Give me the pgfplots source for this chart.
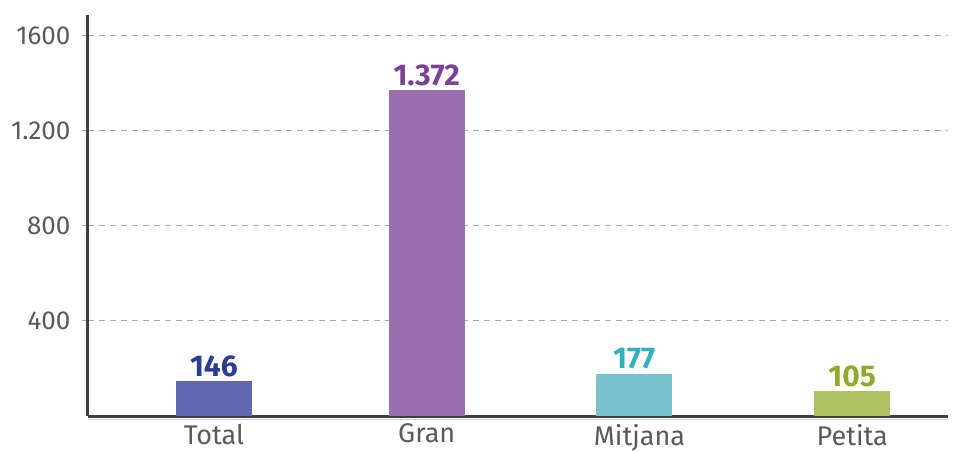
\documentclass[border=0pt]{standalone}
\usepackage{pgfplots}
\pgfplotsset{compat=1.18}
\usepackage{fontspec}
\setmainfont{Fira Sans}
\definecolor{totalbar}{HTML}{5F67B1}
\definecolor{granbar}{HTML}{9A70B1}
\definecolor{mitbar}{HTML}{77C4CE}
\definecolor{petbar}{HTML}{AFC064}
\definecolor{totallab}{HTML}{2B3D93}
\definecolor{granlab}{HTML}{7E3F98}
\definecolor{mitlab}{HTML}{33B0BB}
\definecolor{petlab}{HTML}{8EAB2B}
\definecolor{axisgray}{HTML}{3F3F3F}
\definecolor{labelgray}{HTML}{5A5A5A}
\definecolor{gridgray}{HTML}{AAAAAA}
\begin{document}
\begin{tikzpicture}
\begin{axis}[
  at={(88pt,36pt)}, anchor=south west,
  scale only axis, width=860pt, height=401pt,
  xmin=-0.592, xmax=3.45, ymin=0, ymax=1688,
  axis x line*=bottom, axis y line*=left,
  axis line style={line width=3pt, color=axisgray},
  xtick={0,1,2,3}, xticklabels={Total,Gran,Mitjana,Petita},
  ytick={400,800,1200,1600}, yticklabels={400,800,1.200,1600},
  ymajorgrids,
  grid style={dash pattern=on 6pt off 5pt, color=gridgray, line width=1pt},
  tick align=outside, major tick length=6pt,
  ytick style={draw=gridgray, line width=1pt},
  xtick style={draw=none},
  tick label style={text=labelgray},
  yticklabel style={font=\fontsize{26}{30}\selectfont, xshift=-8pt},
  xticklabel style={font=\fontsize{27}{31}\selectfont, yshift=1.5pt},
  ybar, bar width=76pt, bar shift=0pt,
  nodes near coords={\pgfmathprintnumber[assume math mode=true, 1000 sep={.}]{\pgfplotspointmeta}},
  nodes near coords style={font=\bfseries\fontsize{30}{34}\selectfont, anchor=south, yshift=1pt},
  clip=false,
]
\addplot[fill=totalbar, draw=none, nodes near coords style={text=totallab}] coordinates {(0,146)};
\addplot[fill=granbar, draw=none, nodes near coords style={text=granlab}] coordinates {(1,1372)};
\addplot[fill=mitbar, draw=none, nodes near coords style={text=mitlab}] coordinates {(1.975,177)};
\addplot[fill=petbar, draw=none, nodes near coords style={text=petlab}] coordinates {(3,105)};
\draw[color=gray!40, line width=1.5pt] ([yshift=-3.5pt]rel axis cs:0,0) -- ([yshift=-3.5pt]rel axis cs:1,0);
\end{axis}
\pgfresetboundingbox
\path[use as bounding box] (0,0) rectangle (963pt,452pt);
\end{tikzpicture}
\end{document}
